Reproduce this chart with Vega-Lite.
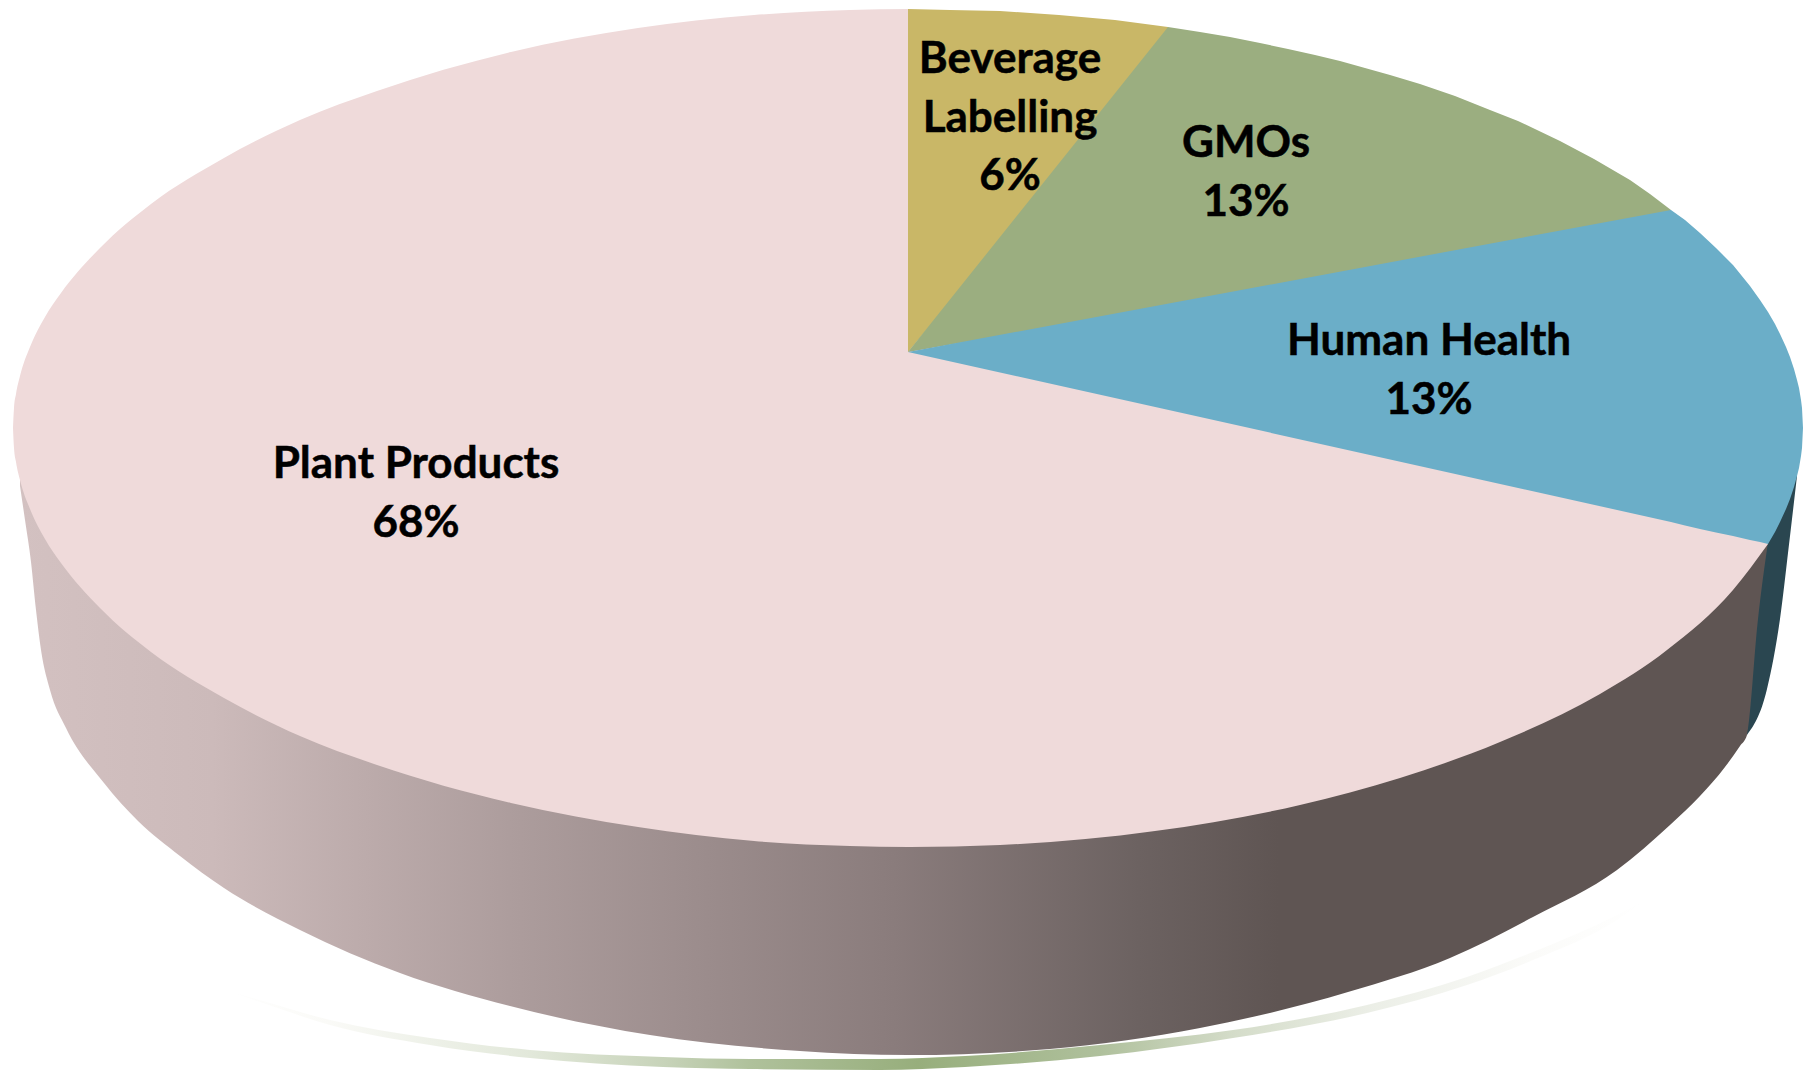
{
  "$schema": "https://vega.github.io/schema/vega-lite/v6.json",
  "width": 1811,
  "height": 1070,
  "padding": 0,
  "autosize": {"type": "none"},
  "background": "white",
  "config": {"view": {"stroke": null}},
  "datasets": {
    "swoosh": [
      {"x":225,"y":990,"y2":990},{"x":263,"y":1001,"y2":1003},{"x":330,"y":1020,"y2":1025},{"x":430,"y":1038,"y2":1045},{"x":530,"y":1050,"y2":1058},{"x":663,"y":1057,"y2":1067},{"x":750,"y":1059,"y2":1069},{"x":880,"y":1059,"y2":1070},{"x":965,"y":1056,"y2":1067},{"x":1100,"y":1045,"y2":1056},{"x":1233,"y":1030,"y2":1038},{"x":1367,"y":1005,"y2":1013},{"x":1467,"y":977,"y2":985},{"x":1533,"y":952,"y2":960},{"x":1617,"y":915,"y2":920},{"x":1645,"y":900,"y2":900}
    ],
    "sideBlue": [
      {"x":1747,"y":430,"y2":735},{"x":1767,"y":430,"y2":689},{"x":1780,"y":430,"y2":619},{"x":1790,"y":430,"y2":536},{"x":1797,"y":430,"y2":476}
    ],
    "sidePlant": [
      {"x":20,"y":430,"y2":486},{"x":25,"y":430,"y2":520},{"x":31,"y":430,"y2":562},{"x":36,"y":430,"y2":610},{"x":41,"y":430,"y2":650},{"x":50,"y":430,"y2":690},{"x":66,"y":430,"y2":728},{"x":104,"y":430,"y2":783},{"x":138,"y":430,"y2":821},{"x":180,"y":430,"y2":856},{"x":224,"y":430,"y2":888},{"x":300,"y":430,"y2":930},{"x":400,"y":430,"y2":973},{"x":510,"y":430,"y2":1006},{"x":650,"y":430,"y2":1035},{"x":800,"y":430,"y2":1051},{"x":908,"y":430,"y2":1055},{"x":1050,"y":430,"y2":1049},{"x":1200,"y":430,"y2":1028},{"x":1348,"y":430,"y2":992},{"x":1450,"y":430,"y2":958},{"x":1533,"y":430,"y2":917},{"x":1617,"y":430,"y2":870},{"x":1670,"y":430,"y2":825},{"x":1700,"y":430,"y2":796},{"x":1725,"y":430,"y2":767},{"x":1740,"y":430,"y2":746},{"x":1747,"y":430,"y2":735},{"x":1758,"y":430,"y2":619},{"x":1768,"y":430,"y2":542}
    ],
    "plant": [
      {"x":13,"y":428,"y2":428},{"x":14,"y":408,"y2":448},{"x":16,"y":394,"y2":462},{"x":20,"y":376,"y2":480},{"x":30,"y":347,"y2":509},{"x":45,"y":317,"y2":539},{"x":61,"y":293,"y2":563},{"x":100,"y":248,"y2":608},{"x":151,"y":204,"y2":652},{"x":224,"y":158,"y2":698},{"x":300,"y":120,"y2":736},{"x":377,"y":91,"y2":765},{"x":511,"y":52,"y2":803},{"x":638,"y":28,"y2":827},{"x":754,"y":15,"y2":841},{"x":850,"y":10,"y2":846},{"x":909,"y":9,"y2":847},{"x":910,"y":340,"y2":847},{"x":1000,"y":360,"y2":845},{"x":1155,"y":395,"y2":831},{"x":1300,"y":428,"y2":805},{"x":1400,"y":450,"y2":778},{"x":1500,"y":472,"y2":742},{"x":1600,"y":494,"y2":694},{"x":1667,"y":509,"y2":650},{"x":1733,"y":524,"y2":590},{"x":1768,"y":532,"y2":544}
    ],
    "beverage": [
      {"x":908,"y":9,"y2":352},{"x":950,"y":10,"y2":302},{"x":1000,"y":11,"y2":240},{"x":1059,"y":15,"y2":166},{"x":1115,"y":20,"y2":96},{"x":1168,"y":27,"y2":30}
    ],
    "gmos": [
      {"x":908,"y":352,"y2":352},{"x":1168,"y":27,"y2":307},{"x":1200,"y":32,"y2":301},{"x":1230,"y":37,"y2":295},{"x":1260,"y":43,"y2":290},{"x":1288,"y":49,"y2":285},{"x":1315,"y":55,"y2":280},{"x":1340,"y":61,"y2":275},{"x":1365,"y":68,"y2":270},{"x":1390,"y":75,"y2":266},{"x":1420,"y":84,"y2":260},{"x":1455,"y":96,"y2":254},{"x":1490,"y":110,"y2":248},{"x":1518,"y":121,"y2":242},{"x":1560,"y":141,"y2":234},{"x":1594,"y":159,"y2":228},{"x":1630,"y":180,"y2":221},{"x":1650,"y":194,"y2":218},{"x":1671,"y":210,"y2":214}
    ],
    "health": [
      {"x":908,"y":352,"y2":352},{"x":1671,"y":210,"y2":522},{"x":1685,"y":220,"y2":525.5},{"x":1700,"y":233,"y2":529},{"x":1716,"y":248,"y2":532.5},{"x":1733,"y":265,"y2":536},{"x":1750,"y":286,"y2":540},{"x":1760,"y":300,"y2":542},{"x":1768,"y":312,"y2":544},{"x":1775,"y":324,"y2":532},{"x":1780,"y":334,"y2":522},{"x":1786,"y":347,"y2":509},{"x":1790,"y":357,"y2":499},{"x":1794,"y":369,"y2":487},{"x":1797,"y":380,"y2":476},{"x":1799,"y":388,"y2":468},{"x":1801,"y":400,"y2":456},{"x":1802,"y":408,"y2":448},{"x":1803,"y":428,"y2":428}
    ],
    "labels": [
      {"x":416,"y":465,"text":["Plant Products","68%"]},
      {"x":1010,"y":60,"text":["Beverage","Labelling","6%"]},
      {"x":1246,"y":144,"text":["GMOs","13%"]},
      {"x":1429,"y":342,"text":["Human Health","13%"]}
    ]
  },
  "layer": [
    {
      "data": {"name": "swoosh"},
      "mark": {"type": "area", "interpolate": "monotone", "color": {"gradient": "linear", "x1": 0, "x2": 1, "y1": 0, "y2": 0, "stops": [{"offset": 0, "color": "#ffffff"}, {"offset": 0.074, "color": "#fafaf7"}, {"offset": 0.215, "color": "#e2e8da"}, {"offset": 0.31, "color": "#c7d3b9"}, {"offset": 0.37, "color": "#afc19b"}, {"offset": 0.488, "color": "#97ae7c"}, {"offset": 0.616, "color": "#afc09c"}, {"offset": 0.71, "color": "#d4dcc9"}, {"offset": 0.804, "color": "#ebeee6"}, {"offset": 0.92, "color": "#fbfbf9"}, {"offset": 1, "color": "#ffffff"}]}},
      "encoding": {
        "x": {"field": "x", "type": "quantitative", "scale": {"domain": [0, 1811], "nice": false, "zero": false}, "axis": null},
        "y": {"field": "y", "type": "quantitative", "scale": {"domain": [1070, 0], "nice": false, "zero": false}, "axis": null, "stack": null},
        "y2": {"field": "y2"}
      }
    },
    {
      "data": {"name": "sideBlue"},
      "mark": {"type": "area", "interpolate": "monotone", "color": "#2a4650"},
      "encoding": {
        "x": {"field": "x", "type": "quantitative", "axis": null},
        "y": {"field": "y", "type": "quantitative", "axis": null, "stack": null},
        "y2": {"field": "y2"}
      }
    },
    {
      "data": {"name": "sidePlant"},
      "mark": {"type": "area", "interpolate": "monotone", "color": {"gradient": "linear", "x1": 0, "x2": 1, "y1": 0, "y2": 0, "stops": [{"offset": 0, "color": "#d3c1c1"}, {"offset": 0.11, "color": "#ccbaba"}, {"offset": 0.28, "color": "#ad9d9d"}, {"offset": 0.5, "color": "#8a7c7c"}, {"offset": 0.64, "color": "#6c6261"}, {"offset": 0.72, "color": "#5f5553"}, {"offset": 1, "color": "#5f5553"}]}},
      "encoding": {
        "x": {"field": "x", "type": "quantitative", "axis": null},
        "y": {"field": "y", "type": "quantitative", "axis": null, "stack": null},
        "y2": {"field": "y2"}
      }
    },
    {
      "data": {"name": "plant"},
      "mark": {"type": "area", "interpolate": "monotone", "color": "#efdada"},
      "encoding": {
        "x": {"field": "x", "type": "quantitative", "axis": null},
        "y": {"field": "y", "type": "quantitative", "axis": null, "stack": null},
        "y2": {"field": "y2"}
      }
    },
    {
      "data": {"name": "beverage"},
      "mark": {"type": "area", "interpolate": "linear", "color": "#c9b767"},
      "encoding": {
        "x": {"field": "x", "type": "quantitative", "axis": null},
        "y": {"field": "y", "type": "quantitative", "axis": null, "stack": null},
        "y2": {"field": "y2"}
      }
    },
    {
      "data": {"name": "gmos"},
      "mark": {"type": "area", "interpolate": "linear", "color": "#9bae80"},
      "encoding": {
        "x": {"field": "x", "type": "quantitative", "axis": null},
        "y": {"field": "y", "type": "quantitative", "axis": null, "stack": null},
        "y2": {"field": "y2"}
      }
    },
    {
      "data": {"name": "health"},
      "mark": {"type": "area", "interpolate": "linear", "color": "#6baec8"},
      "encoding": {
        "x": {"field": "x", "type": "quantitative", "axis": null},
        "y": {"field": "y", "type": "quantitative", "axis": null, "stack": null},
        "y2": {"field": "y2"}
      }
    },
    {
      "data": {"name": "labels"},
      "mark": {"type": "text", "font": "Lato", "fontWeight": "bold", "fontSize": 44, "lineHeight": 58.5, "align": "center", "baseline": "middle", "color": "#000000", "stroke": "#000000", "strokeWidth": 0.5},
      "encoding": {
        "x": {"field": "x", "type": "quantitative", "axis": null},
        "y": {"field": "y", "type": "quantitative", "axis": null},
        "text": {"field": "text"}
      }
    }
  ]
}
